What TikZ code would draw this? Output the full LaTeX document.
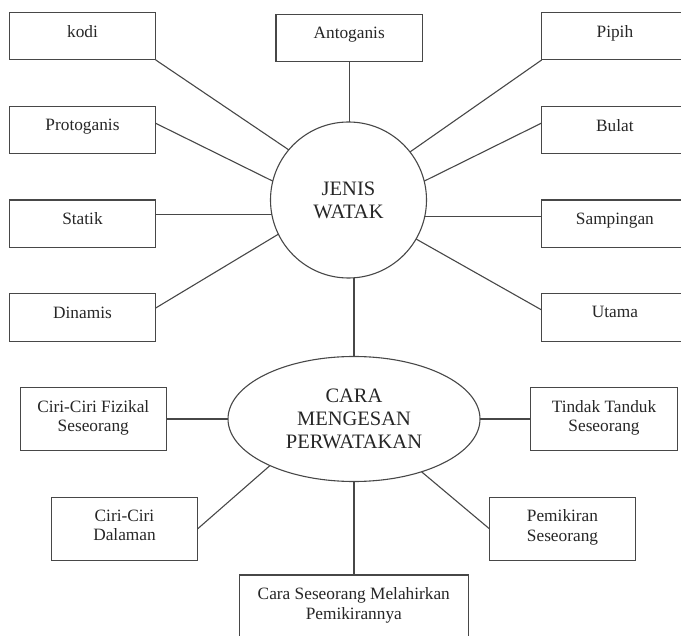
\documentclass[tikz,border=0pt]{standalone}
\usepackage{fontspec}
\setmainfont{Liberation Serif}
\usetikzlibrary{shapes.geometric}
\begin{document}
\begin{tikzpicture}[x=1pt,y=-1pt,
  line/.style={draw=black!72, line width=1.1pt},
  box/.style={draw=black!72, line width=1.1pt, minimum width=146.4pt, inner sep=0pt, outer sep=0pt},
  onebox/.style={box, minimum height=47.3pt},
  twobox/.style={box, minimum height=63pt},
  btxt/.style={anchor=north, yshift=-12.5pt, inner sep=0pt, align=center, text=black!85, font=\fontsize{17.3}{19.5}\selectfont},
  hub/.style={draw=black!72, line width=1.1pt, inner sep=0pt, outer sep=0pt, align=center, text=black!85}]
\useasboundingbox (0,0) rectangle (681,636);
\clip (0,0) rectangle (681,636);

% left column
\node[onebox, label={[btxt]north:kodi}] (kodi) at (82.5,36.3) {};
\node[onebox, label={[btxt]north:Protoganis}] (prot) at (82.5,130) {};
\node[onebox, label={[btxt]north:Statik}] (stat) at (82.5,223.7) {};
\node[onebox, label={[btxt]north:Dinamis}] (din) at (82.5,317.5) {};
% top
\node[onebox, label={[btxt]north:Antoganis}] (ant) at (349.2,37.8) {};
% right column
\node[onebox, label={[btxt]north:Pipih}] (pip) at (614.9,36.3) {};
\node[onebox, label={[btxt]north:Bulat}] (bul) at (614.9,130) {};
\node[onebox, label={[btxt]north:Sampingan}] (samp) at (614.9,223.7) {};
\node[onebox, label={[btxt]north:Utama}] (uta) at (614.9,317.5) {};

% hubs
\node[hub, circle, minimum size=156pt, font=\fontsize{20.5}{23}\selectfont] (jw) at (348.5,200) {JENIS\\WATAK};
\node[hub, ellipse, minimum width=252pt, minimum height=125pt, font=\fontsize{20.5}{22.7}\selectfont] (cm) at (354,419) {CARA\\MENGESAN\\PERWATAKAN};

% lower boxes
\node[twobox, label={[btxt]north:Ciri-Ciri Fizikal\\Seseorang}] (fiz) at (93.3,419.2) {};
\node[twobox, label={[btxt]north:Ciri-Ciri\\Dalaman}] (dal) at (124.5,528.8) {};
\node[twobox, minimum width=229pt, label={[btxt]north:Cara Seseorang Melahirkan\\Pemikirannya}] (cara) at (353.8,606.5) {};
\node[twobox, label={[btxt]north:Tindak Tanduk\\Seseorang}] (tin) at (604,419.2) {};
\node[twobox, label={[btxt]north:Pemikiran\\Seseorang}] (pem) at (562.5,528.7) {};

% connectors of JENIS WATAK
\draw[line] (kodi.south east) -- (jw.140.8);
\draw[line] ([yshift=6.7pt]prot.east) -- (jw.166.1);
\draw[line] (jw.191.8) -- (jw.191.8 -| stat.east);
\draw[line] ([yshift=9.5pt]din.east) -- (jw.206);
\draw[line] (pip.south west) -- (jw.38.8);
\draw[line] ([yshift=7pt]bul.west) -- (jw.14.5);
\draw[line] (jw.348.2) -- (jw.348.2 -| samp.west);
\draw[line] ([yshift=7.5pt]uta.west) -- (jw.330.7);
\draw[line] (ant.south) -- (ant.south |- jw.north);
\draw[line] (cm.north) -- (cm.north |- jw.south);

% connectors of CARA MENGESAN PERWATAKAN
\draw[line] (cm.west) -- (cm.west -| fiz.east);
\draw[line] (cm.east) -- (cm.east -| tin.west);
\draw[line] (dal.east) -- (cm.209.6);
\draw[line] (cm.322.9) -- (pem.west);
\draw[line] (cm.south) -- (cm.south |- cara.north);
\end{tikzpicture}
\end{document}
